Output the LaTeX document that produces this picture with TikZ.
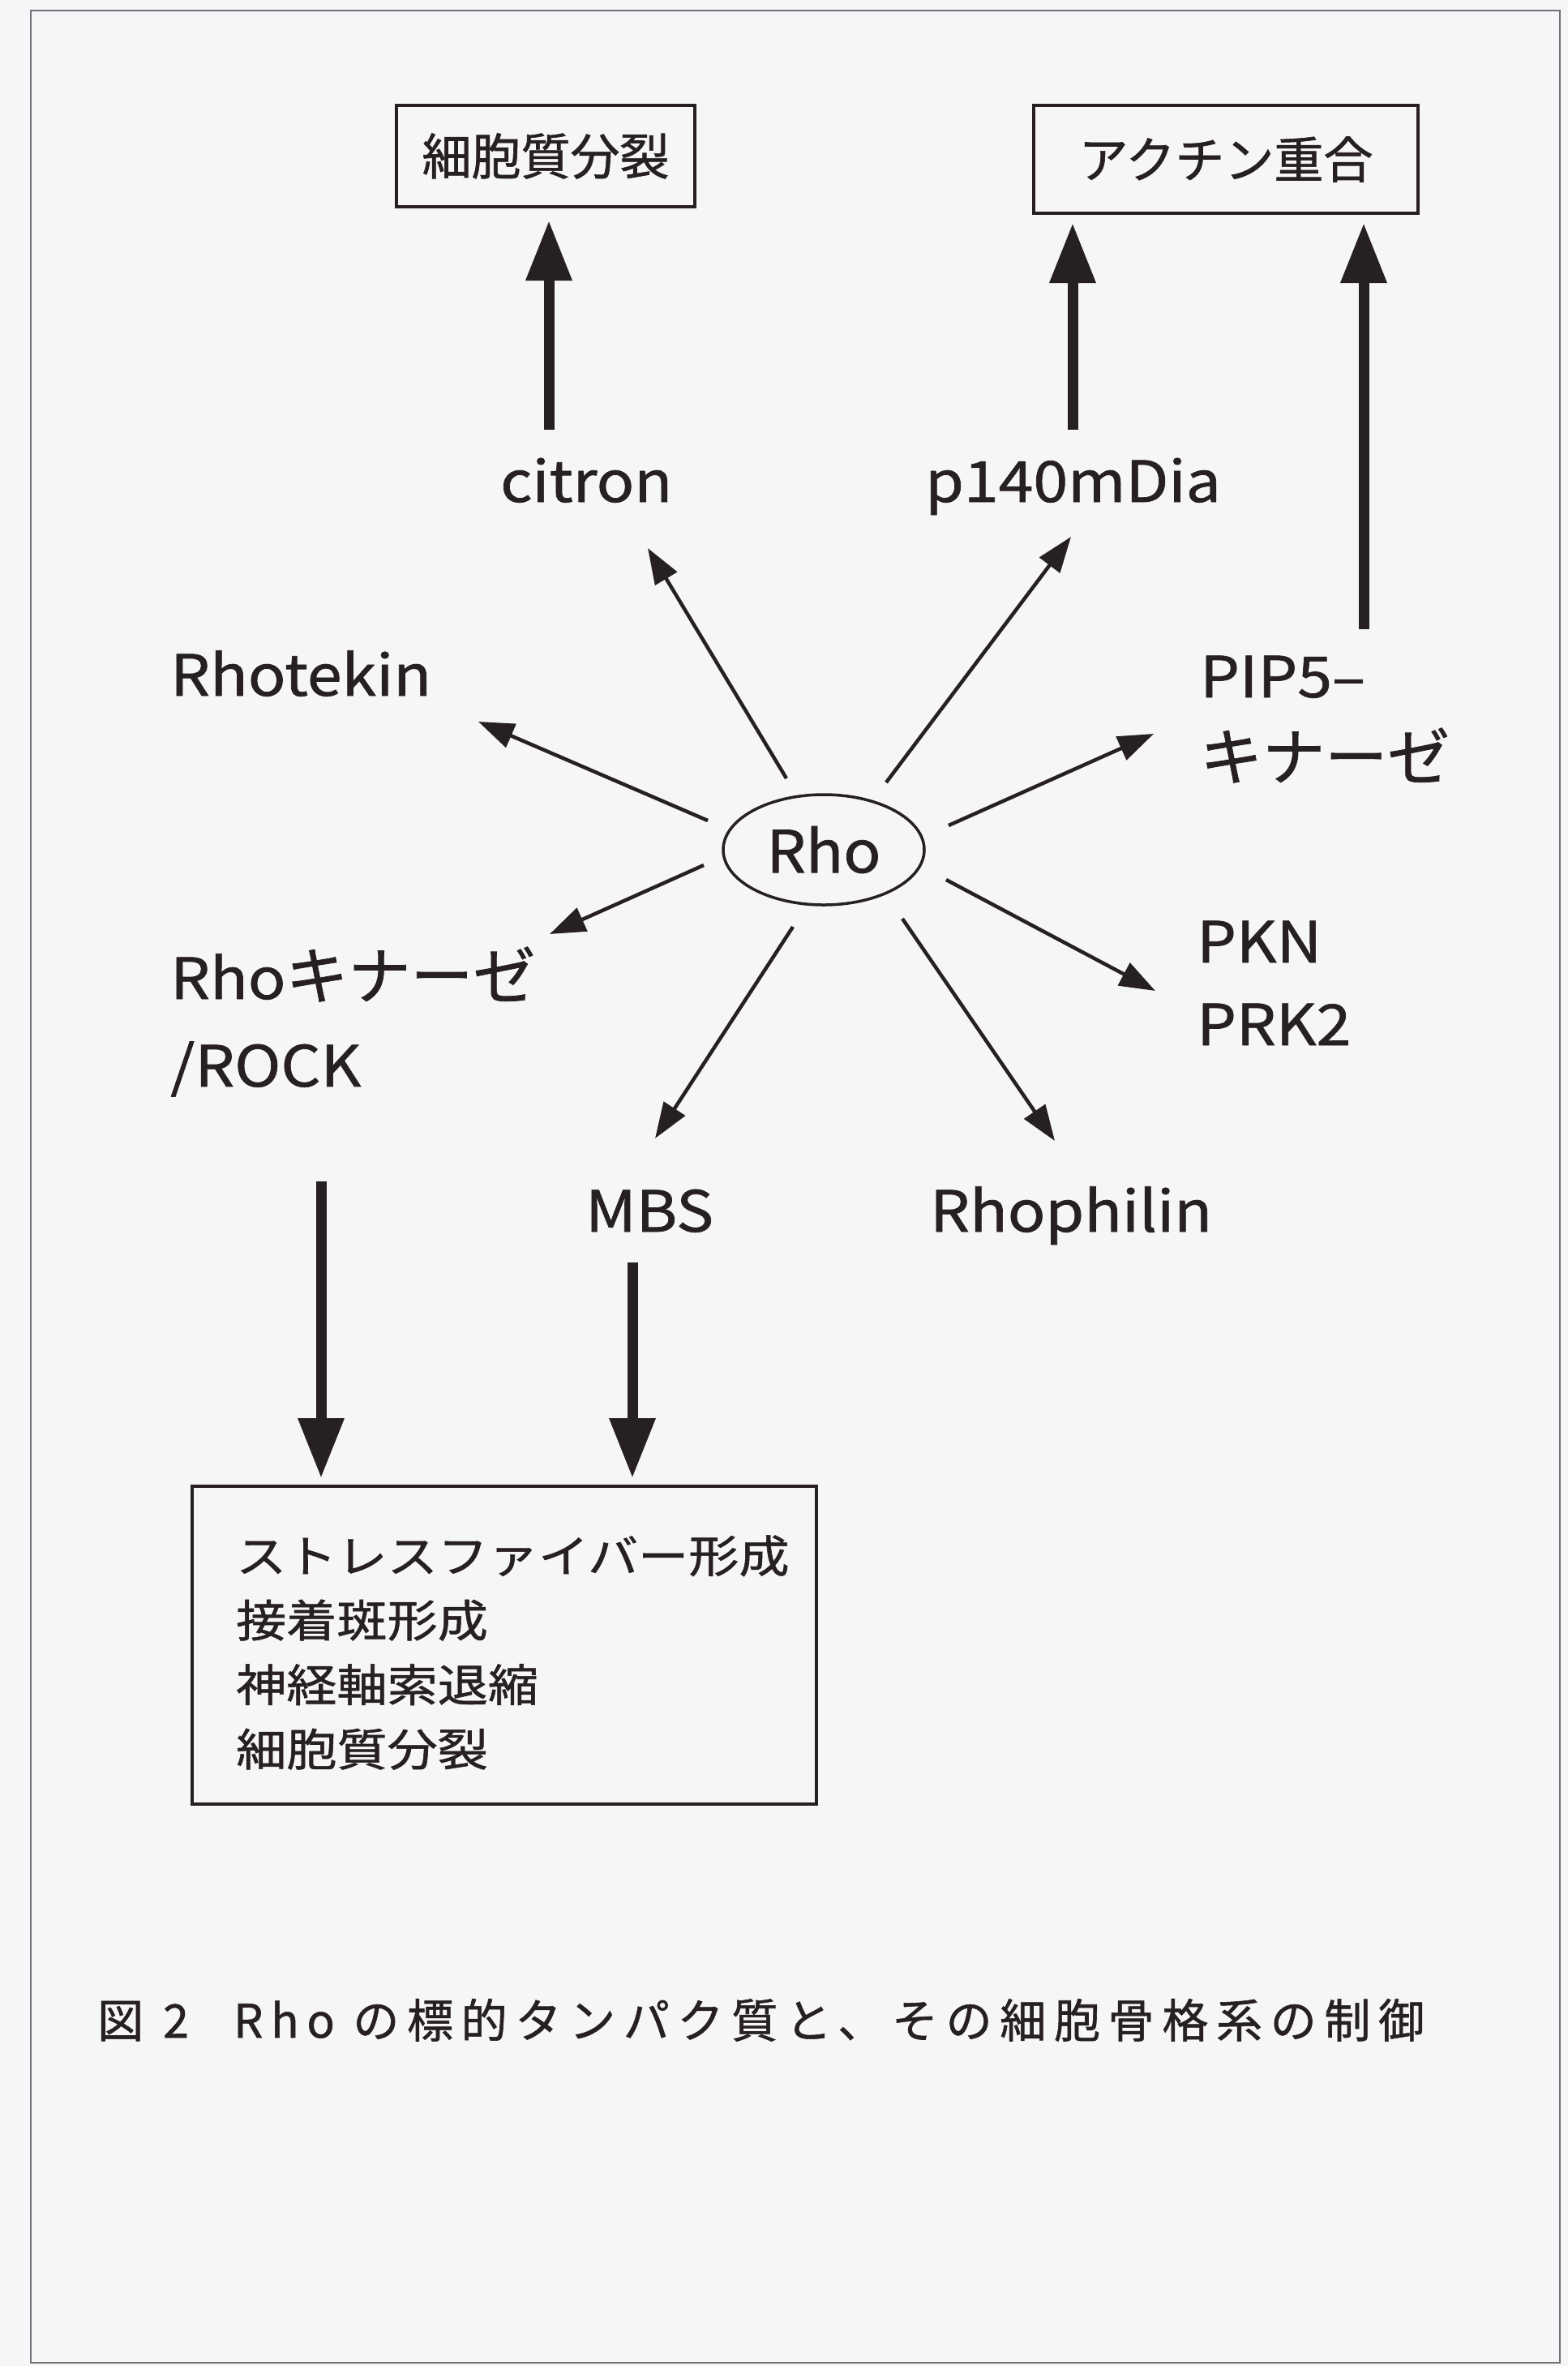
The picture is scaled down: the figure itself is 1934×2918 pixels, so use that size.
\documentclass[tikz,border=0pt]{standalone}
\usepackage{fontspec}
\setmainfont{Noto Sans CJK JP}
\newfontfamily\jpf{Noto Sans CJK JP}[FakeBold=1]
\newfontfamily\latf{Noto Sans CJK JP}[FakeStretch=1.10,FakeBold=1]
\newfontfamily\rhof{Noto Sans CJK JP}[FakeStretch=1.06,FakeBold=1]
\newfontfamily\efff{Noto Sans CJK JP}[FakeStretch=1.13,FakeBold=1]
\newfontfamily\capfont{Noto Sans CJK JP}[LetterSpace=17,FakeBold=1]
\newcommand{\kana}[1]{{\jpf\fontsize{77}{80}\selectfont #1}}
\usetikzlibrary{arrows.meta,shapes.geometric}
\definecolor{ink}{RGB}{38,32,36}
\definecolor{paper}{RGB}{246,245,247}
\definecolor{framec}{RGB}{120,112,118}
\tikzset{
  lbl/.style={inner sep=0pt, anchor=base west, text=ink, font=\latf\fontsize{70}{80}\selectfont},
  topbox/.style={draw=ink, line width=4pt, inner sep=0pt, text=ink, font=\jpf\fontsize{61}{66}\selectfont},
  bigbox/.style={draw=ink, line width=4pt, inner sep=0pt},
  efflines/.style={inner sep=0pt, anchor=west, align=left, text=ink, font=\efff\fontsize{55}{79.5}\selectfont},
  rhonode/.style={draw=ink, line width=3.5pt, ellipse, inner sep=0pt, text=ink, font=\rhof\fontsize{72}{80}\selectfont},
  captext/.style={inner sep=0pt, anchor=base west, text=ink, font=\capfont\fontsize{57}{60}\selectfont},
  thickarr/.style={draw=ink, line width=13pt, -{Triangle[width=54pt,length=74pt]}},
  thinarr/.style={draw=ink, line width=4.5pt, -{Triangle[width=31pt,length=44pt]}},
}
\begin{document}
\begin{tikzpicture}[x=1pt,y=-1pt]
\useasboundingbox (0,0) rectangle (1934,2918);
\fill[paper] (0,0) rectangle (1934,2918);
\draw[framec, line width=2.5pt] (38,13) rectangle (1924,2914);

% boxes
\node[topbox, minimum width=368pt, minimum height=125pt] (cyto) at (673,192.5) {細胞質分裂};
\node[topbox, minimum width=474pt, minimum height=133pt] (actin) at (1512,196.5) {アクチン重合};
\node[bigbox, minimum width=770pt, minimum height=392pt] (effects) at (622,2029) {};
\node[efflines] (efftxt) at (291,2038) {ストレスファイバー形成\\接着斑形成\\神経軸索退縮\\細胞質分裂};

% Rho
\node[rhonode, minimum width=248pt, minimum height=136pt] (rho) at (1016,1048) {Rho};

% labels
\node[lbl] (citron) at (617,619) {citron};
\node[lbl] (mdia) at (1141,619) {p140mDia};
\node[lbl] (rhotekin) at (210,858) {Rhotekin};
\node[lbl] (pip) at (1480,860) {PIP5–};
\node[lbl] (pipb) at (1480,962) {\kana{キナーゼ}};
\node[lbl] (rock) at (210,1232) {Rho\kana{キナーゼ}};
\node[lbl] (rockb) at (210,1340) {/ROCK};
\node[lbl] (pkn) at (1476,1187) {PKN};
\node[lbl] (prk) at (1476,1289) {PRK2};
\node[lbl] (mbs) at (722,1519) {MBS};
\node[lbl] (rhophilin) at (1147,1519) {Rhophilin};

% caption
\node[captext] (cap1) at (120,2513) {図\hspace{24pt}2};
\node[captext] (cap2) at (288,2513) {Rho の標的タンパク質と、その細胞骨格系の制御};

% arrow end points
\coordinate (s1) at (873,1012); \coordinate (t1) at (590,890);
\coordinate (s2) at (970,960);  \coordinate (t2) at (799,676);
\coordinate (s3) at (1093,965); \coordinate (t3) at (1321,662);
\coordinate (s4) at (1170,1018); \coordinate (t4) at (1423,905);
\coordinate (s5) at (868,1067); \coordinate (t5) at (678,1152);
\coordinate (s6) at (1167,1085); \coordinate (t6) at (1425,1222);
\coordinate (s7) at (978,1143); \coordinate (t7) at (808,1404);
\coordinate (s8) at (1113,1133); \coordinate (t8) at (1301,1407);

\draw[thinarr] (s1) -- (t1);
\draw[thinarr] (s2) -- (t2);
\draw[thinarr] (s3) -- (t3);
\draw[thinarr] (s4) -- (t4);
\draw[thinarr] (s5) -- (t5);
\draw[thinarr] (s6) -- (t6);
\draw[thinarr] (s7) -- (t7);
\draw[thinarr] (s8) -- (t8);

\coordinate (a1s) at (677,530); \coordinate (a1t) at (677,272);
\coordinate (a2s) at (1323,530); \coordinate (a2t) at (1323,275);
\coordinate (a3s) at (1682,776); \coordinate (a3t) at (1682,275);
\coordinate (a4s) at (396,1457); \coordinate (a4t) at (396,1823);
\coordinate (a5s) at (780,1557); \coordinate (a5t) at (780,1823);

\draw[thickarr] (a1s) -- (a1t);
\draw[thickarr] (a2s) -- (a2t);
\draw[thickarr] (a3s) -- (a3t);
\draw[thickarr] (a4s) -- (a4t);
\draw[thickarr] (a5s) -- (a5t);
\end{tikzpicture}
\end{document}
